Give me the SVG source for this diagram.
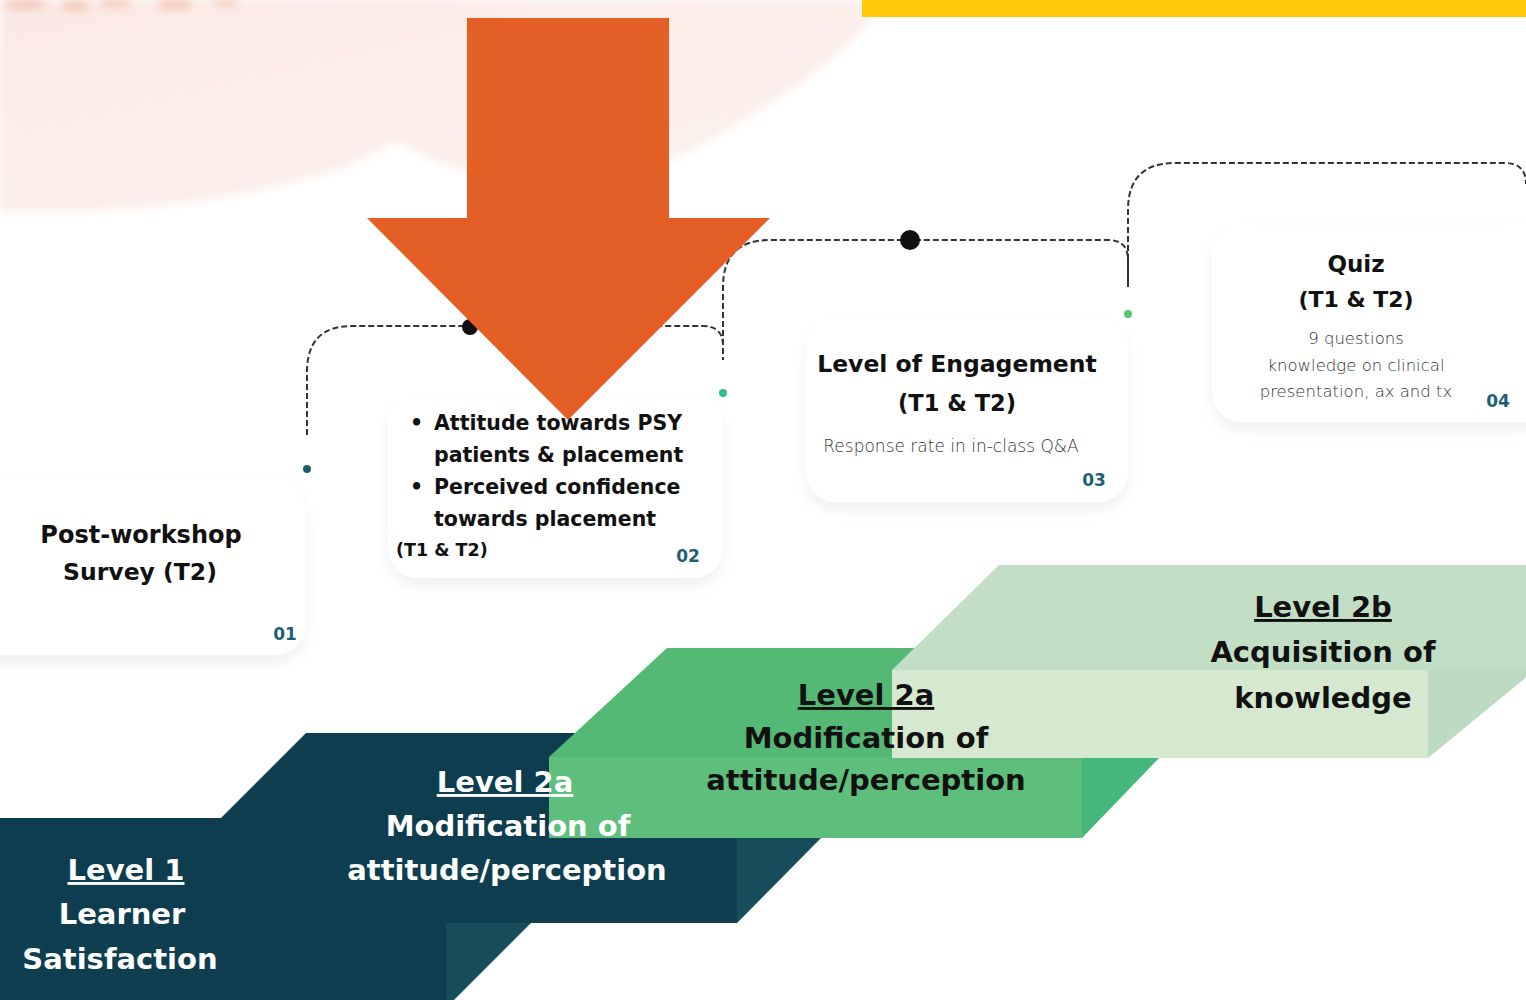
<svg xmlns="http://www.w3.org/2000/svg" width="1526" height="1000" viewBox="0 0 1526 1000">
<defs>
<style>
.card{fill:#ffffff;filter:url(#sh);}
.h{font-family:"DejaVu Sans",sans-serif;font-weight:bold;fill:#111;}
.s{font-family:"DejaVu Sans",sans-serif;font-weight:200;fill:#333;}
.num{font-family:"DejaVu Sans",sans-serif;font-weight:bold;fill:#1f5f74;font-size:17px;text-anchor:middle;}
.dash{fill:none;stroke:#333;stroke-width:2;stroke-dasharray:6 3;}
.st{font-family:"DejaVu Sans",sans-serif;font-weight:bold;font-size:29px;text-anchor:middle;}
.w{fill:#ffffff;}
.k{fill:#111;}
.u{text-decoration:underline;}
</style>
<filter id="sh" x="-20%" y="-20%" width="140%" height="150%">
<feDropShadow dx="0" dy="8" stdDeviation="7" flood-color="#000" flood-opacity="0.06"/>
</filter>
<filter id="blur" x="-5%" y="-20%" width="110%" height="140%">
<feGaussianBlur stdDeviation="4"/>
</filter>
<linearGradient id="pink" x1="0" y1="0" x2="1" y2="1">
<stop offset="0" stop-color="#fbe9e3"/>
<stop offset="1" stop-color="#fdf3ef"/>
</linearGradient>
</defs>
<rect width="1526" height="1000" fill="#ffffff"/>
<g id="background">
<path d="M0,0 L885,0 C860,40 810,80 760,110 C720,135 690,155 650,168 L470,172 L436,162 L396,142 L350,165 C260,195 160,215 0,212 Z" fill="url(#pink)" filter="url(#blur)"/>
<g fill="#f0bfae" opacity="0.7" filter="url(#blur)">
<ellipse cx="25" cy="4" rx="22" ry="6"/>
<ellipse cx="75" cy="6" rx="14" ry="6"/>
<ellipse cx="115" cy="3" rx="16" ry="5"/>
<ellipse cx="175" cy="4" rx="18" ry="6"/>
<ellipse cx="225" cy="2" rx="14" ry="4"/>
</g>
<rect x="862" y="0" width="664" height="17" fill="#fdc70a"/>
</g>
<g id="card-01">
<rect class="card" x="-30" y="480" width="335" height="175" rx="30"/>
<text class="h" x="141" y="543" font-size="24" text-anchor="middle">Post-workshop</text>
<text class="h" x="140" y="580" font-size="23.5" text-anchor="middle">Survey (T2)</text>
<text class="num" x="285" y="640">01</text>
</g>
<g id="card-02">
<rect class="card" x="388" y="395" width="335" height="183" rx="30"/>
<text class="h" font-size="20.5">
<tspan x="410" y="430">•</tspan><tspan x="434" y="430">Attitude towards PSY</tspan>
<tspan x="434" y="462">patients &amp; placement</tspan>
<tspan x="410" y="494">•</tspan><tspan x="434" y="494">Perceived confidence</tspan>
<tspan x="434" y="526">towards placement</tspan>
</text>
<text class="h" x="396" y="556" font-size="17.5">(T1 &amp; T2)</text>
<text class="num" x="688" y="562">02</text>
</g>
<g id="card-03">
<rect class="card" x="806" y="320" width="322" height="182" rx="30"/>
<text class="h" x="957" y="372" font-size="23.5" text-anchor="middle">Level of Engagement</text>
<text class="h" x="957" y="411" font-size="22.5" text-anchor="middle">(T1 &amp; T2)</text>
<text class="s" x="951" y="452" font-size="17" text-anchor="middle">Response rate in in-class Q&amp;A</text>
<text class="num" x="1094" y="486">03</text>
</g>
<g id="card-04">
<rect class="card" x="1212" y="225" width="340" height="197" rx="30"/>
<text class="h" x="1356" y="272" font-size="23" text-anchor="middle">Quiz</text>
<text class="h" x="1356" y="307" font-size="22" text-anchor="middle">(T1 &amp; T2)</text>
<text class="s" x="1356" y="344" font-size="16.5" text-anchor="middle">9 questions</text>
<text class="s" x="1356" y="371" font-size="16.5" text-anchor="middle">knowledge on clinical</text>
<text class="s" x="1356" y="397" font-size="16.5" text-anchor="middle">presentation, ax and tx</text>
<text class="num" x="1498" y="407">04</text>
</g>
<g id="connectors">
<path class="dash" d="M307,435 V372 Q307,326 352,326 H703 Q723,326 723,346 V360"/>
<path class="dash" d="M723,345 V287 Q723,240 770,240 H1108 Q1128,240 1128,260 V287"/>
<path class="dash" d="M1128,287 V210 Q1128,163 1175,163 H1505 Q1526,163 1526,184"/>
<circle cx="470" cy="327" r="8" fill="#111"/>
<circle cx="910" cy="240" r="10" fill="#111"/>
<circle cx="307" cy="469" r="4" fill="#1d5b6d"/>
<circle cx="723" cy="393" r="4" fill="#2fbf90"/>
<circle cx="1128" cy="314" r="4" fill="#5cc56d"/>
</g>
<g id="level-1">
<polygon points="-10,818 745,818 640,923 -10,923" fill="#0d3d4e"/>
<rect x="-10" y="923" width="456" height="82" fill="#0e3e4f"/>
<polygon points="446,923 531,923 446,1008" fill="#174c5b"/>
</g>
<g id="level-2a-dark">
<polygon points="306,733 926,733 821,838 201,838" fill="#0d3d4e"/>
<rect x="201" y="838" width="536" height="85" fill="#0e3e4f"/>
<polygon points="737,838 821,838 737,923" fill="#174c5b"/>
</g>
<g id="level-2a-green">
<polygon points="667,648 1272,648 1160,757 549,757" fill="#55b976"/>
<rect x="549" y="757" width="533" height="81" fill="#5ebf7c"/>
<polygon points="1082,757 1160,757 1082,838" fill="#45b77c"/>
</g>
<g id="level-2b">
<polygon points="999,565 1640,565 1535,670 892,670" fill="#c2dfc6"/>
<rect x="892" y="670" width="536" height="88" fill="#d5e9d0"/>
<polygon points="1428,670 1535,670 1428,758" fill="#bcdbc1"/>
</g>
<g id="level-1-label">
<text class="st w" x="126" y="880"><tspan class="u">Level 1</tspan></text>
<text class="st w" x="122" y="924">Learner</text>
<text class="st w" x="120" y="969">Satisfaction</text>
</g>
<g id="level-2a-dark-label">
<text class="st w" x="505" y="792"><tspan class="u">Level 2a </tspan></text>
<text class="st w" x="508" y="836">Modification of</text>
<text class="st w" x="507" y="880">attitude/perception</text>
</g>
<g id="level-2a-green-label">
<text class="st k" x="866" y="705"><tspan class="u">Level 2a </tspan></text>
<text class="st k" x="866" y="748">Modification of</text>
<text class="st k" x="866" y="790">attitude/perception</text>
</g>
<g id="level-2b-label">
<text class="st k" x="1323" y="617"><tspan class="u">Level 2b </tspan></text>
<text class="st k" x="1323" y="662">Acquisition of</text>
<text class="st k" x="1323" y="708">knowledge</text>
</g>
<g id="arrow">
<polygon points="467,18 669,18 669,218 770,218 568,420 367,218 467,218" fill="#e35f26"/>
</g>
</svg>
